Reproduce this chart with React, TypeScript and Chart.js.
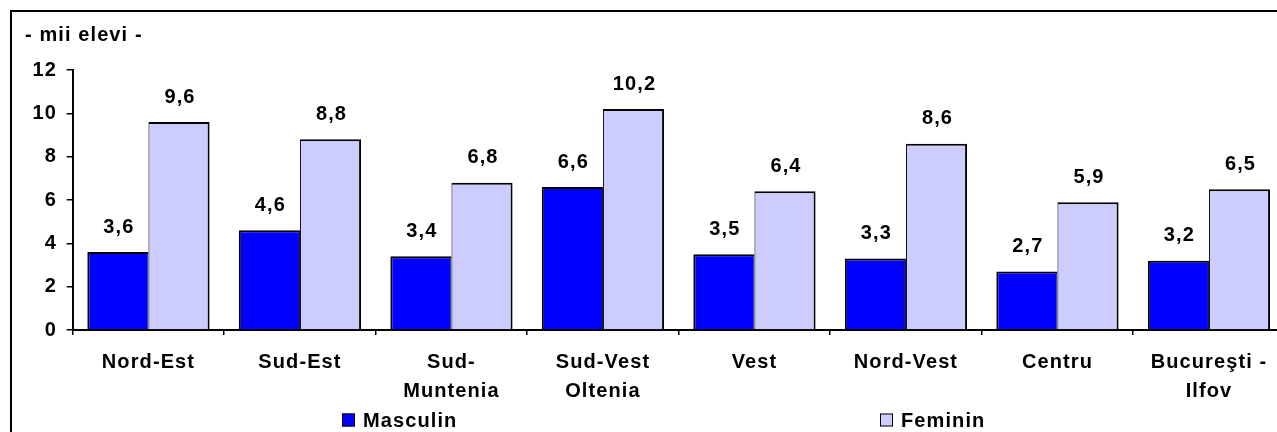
import React, { useEffect, useRef } from "react";
import { Chart, registerables } from "chart.js";

Chart.register(...registerables);

const categories: (string | string[])[] = [
  "Nord-Est",
  "Sud-Est",
  ["Sud-", "Muntenia"],
  ["Sud-Vest", "Oltenia"],
  "Vest",
  "Nord-Vest",
  "Centru",
  ["Bucureşti -", "Ilfov"],
];
const masculin = [3.6, 4.6, 3.4, 6.6, 3.5, 3.3, 2.7, 3.2];
const feminin = [9.6, 8.8, 6.8, 10.2, 6.4, 8.6, 5.9, 6.5];
const seriesNames = ["Masculin", "Feminin"];
const unitTitle = "- mii elevi -";
const yMin = 0;
const yMax = 12;
const yStep = 2;

const FONT = "'Liberation Sans', Arial, sans-serif";
const FS = 20;
const LS = "1.1px";

const fmt = (v: number) => v.toFixed(1).replace(".", ",");

const spacingPlugin = {
  id: "spacing",
  beforeUpdate(c: any) {
    c.ctx.letterSpacing = LS;
  },
  beforeDraw(c: any) {
    c.ctx.letterSpacing = LS;
  },
};

const valueLabels = {
  id: "valueLabels",
  afterDatasetsDraw(c: any) {
    const ctx = c.ctx;
    ctx.save();
    ctx.letterSpacing = LS;
    ctx.font = `bold ${FS}px ${FONT}`;
    ctx.fillStyle = "#000";
    ctx.textAlign = "center";
    ctx.textBaseline = "middle";
    c.data.datasets.forEach((ds: any, i: number) => {
      const meta = c.getDatasetMeta(i);
      meta.data.forEach((el: any, j: number) => {
        ctx.fillText(fmt(ds.data[j]), el.x + 1, el.y - 25);
      });
    });
    ctx.restore();
  },
};

const customLegend = {
  id: "customLegend",
  afterDraw(c: any) {
    const ctx = c.ctx;
    const boxX = [330, 868];
    const cy = 408;
    ctx.save();
    ctx.letterSpacing = LS;
    ctx.font = `bold ${FS}px ${FONT}`;
    ctx.textBaseline = "middle";
    ctx.textAlign = "left";
    c.data.datasets.forEach((ds: any, i: number) => {
      const x = boxX[i];
      ctx.fillStyle = ds.backgroundColor;
      ctx.fillRect(x, cy - 6.5, 13, 13);
      ctx.strokeStyle = "#000";
      ctx.lineWidth = 1;
      ctx.strokeRect(x + 0.5, cy - 6, 12, 12);
      ctx.fillStyle = "#000";
      ctx.fillText(ds.label, x + 21, cy + 1);
    });
    ctx.restore();
  },
};

export default function App() {
  const ref = useRef<HTMLCanvasElement>(null);
  useEffect(() => {
    const chart = new Chart(ref.current!, {
      type: "bar",
      data: {
        labels: categories,
        datasets: [
          {
            label: seriesNames[0],
            data: masculin,
            backgroundColor: "#0000FF",
            borderColor: "#000",
            borderWidth: { left: 2, right: 1, top: 2, bottom: 0 },
            borderSkipped: false,
          },
          {
            label: seriesNames[1],
            data: feminin,
            backgroundColor: "#CCCCFF",
            borderColor: "#000",
            borderWidth: { left: 1, right: 2, top: 2, bottom: 0 },
            borderSkipped: false,
          },
        ],
      },
      options: {
        responsive: false,
        animation: false,
        devicePixelRatio: 1,
        layout: { padding: { left: 13, right: 23.3, top: 0, bottom: 46 } },
        datasets: {
          bar: { categoryPercentage: 0.807, barPercentage: 1.0 },
        },
        plugins: {
          legend: { display: false },
          tooltip: { enabled: false },
          title: {
            display: true,
            text: unitTitle,
            align: "start",
            color: "#000",
            font: { family: FONT, size: FS, weight: "bold", lineHeight: 1.2 },
            padding: { top: 11, bottom: 23 },
          },
        },
        scales: {
          x: {
            grid: {
              display: true,
              drawOnChartArea: false,
              drawTicks: true,
              tickLength: 5,
              color: "#000",
              lineWidth: 1.5,
              offset: true,
            },
            border: { display: true, color: "#000", width: 2 },
            ticks: {
              color: "#000",
              autoSkip: false,
              maxRotation: 0,
              minRotation: 0,
              padding: 12.5,
              font: { family: FONT, size: FS, weight: "bold", lineHeight: 29 / FS },
            },
            afterFit(s: any) {
              s.height = 76;
            },
          },
          y: {
            min: yMin,
            max: yMax,
            grid: {
              display: true,
              drawOnChartArea: false,
              drawTicks: true,
              tickLength: 6,
              color: "#000",
              lineWidth: 1.5,
            },
            border: { display: true, color: "#000", width: 2 },
            ticks: {
              stepSize: yStep,
              color: "#000",
              padding: 9.7,
              font: { family: FONT, size: FS, weight: "bold" },
            },
            afterFit(s: any) {
              s.width = 47.7;
            },
          },
        },
      },
      plugins: [spacingPlugin, valueLabels, customLegend],
    } as any);
    return () => chart.destroy();
  }, []);

  return (
    <div
      style={{
        position: "fixed",
        left: 0,
        top: 0,
        width: 1277,
        height: 432,
        overflow: "hidden",
        background: "#fff",
      }}
    >
      <div
        style={{
          position: "absolute",
          left: 10,
          top: 10,
          width: 1296,
          height: 440,
          border: "2px solid #000",
        }}
      >
        <canvas ref={ref} width={1296} height={440} style={{ display: "block" }} />
      </div>
    </div>
  );
}
